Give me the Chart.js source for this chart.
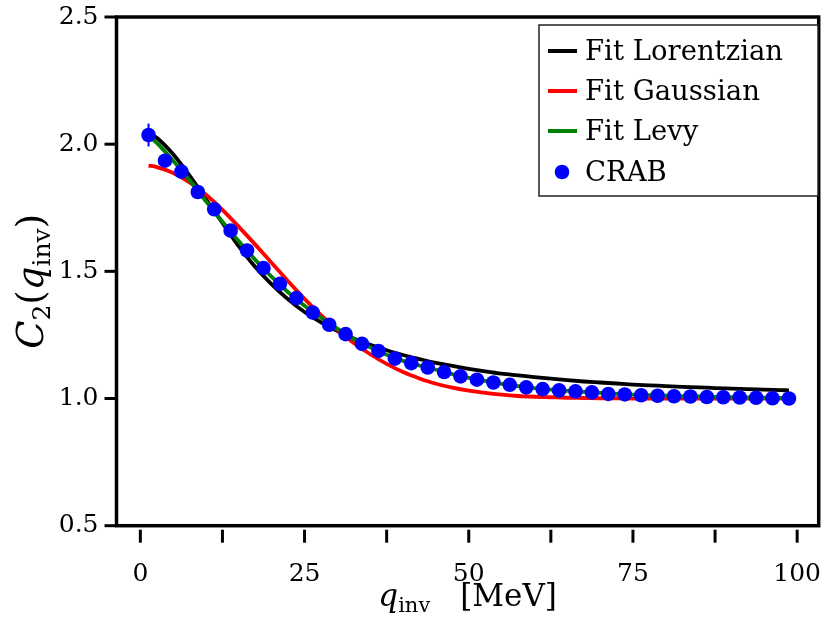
<!DOCTYPE html>
<html>
<head>
<meta charset="utf-8">
<script src="https://cdn.jsdelivr.net/npm/chart.js@4.4.1/dist/chart.umd.min.js"></script>
<style>
  html, body { margin: 0; padding: 0; background: #fff; }
  #wrap { width: 826px; height: 617px; }
</style>
</head>
<body>
<div id="wrap"><canvas id="c2Chart" width="826" height="617"></canvas></div>
<script>
// CRAB correlation points, q_inv in MeV
const crabQ = [1.25, 3.75, 6.25, 8.75, 11.25, 13.75, 16.25, 18.75, 21.25, 23.75,
    26.25, 28.75, 31.25, 33.75, 36.25, 38.75, 41.25, 43.75, 46.25, 48.75,
    51.25, 53.75, 56.25, 58.75, 61.25, 63.75, 66.25, 68.75, 71.25, 73.75,
    76.25, 78.75, 81.25, 83.75, 86.25, 88.75, 91.25, 93.75, 96.25, 98.75];
const crabC2 = [2.036, 1.935, 1.892, 1.812, 1.744, 1.660, 1.582, 1.513, 1.451, 1.395,
    1.338, 1.290, 1.253, 1.215, 1.187, 1.157, 1.139, 1.122, 1.104, 1.087,
    1.074, 1.063, 1.054, 1.044, 1.037, 1.032, 1.028, 1.024, 1.018, 1.016,
    1.013, 1.011, 1.009, 1.008, 1.006, 1.005, 1.004, 1.003, 1.001, 1.000];
const crabErr = [0.045, 0.02, 0.015, 0.012, 0.01, 0.01, 0.01, 0.008, 0.008, 0.008,
    0.006, 0.006, 0.006, 0.006, 0.005, 0.005, 0.005, 0.005, 0.005, 0.005,
    0.004, 0.004, 0.004, 0.004, 0.004, 0.004, 0.004, 0.004, 0.004, 0.004,
    0.004, 0.004, 0.004, 0.004, 0.004, 0.004, 0.004, 0.004, 0.004, 0.004];

// fit curves, sampled on one q grid
const fitQ = [1.25, 2.5, 5, 7.5, 10, 12.5, 15, 17.5, 20, 22.5,
    25, 27.5, 30, 32.5, 35, 37.5, 40, 42.5, 45, 47.5,
    50, 52.5, 55, 57.5, 60, 62.5, 65, 67.5, 70, 72.5,
    75, 77.5, 80, 82.5, 85, 87.5, 90, 92.5, 95, 97.5, 98.75];
const lorentzianC2 = [2.045, 2.025, 1.960, 1.876, 1.783, 1.690, 1.598, 1.517, 1.449, 1.390,
    1.340, 1.299, 1.265, 1.236, 1.211, 1.190, 1.171, 1.155, 1.140, 1.128,
    1.117, 1.107, 1.098, 1.091, 1.084, 1.078, 1.072, 1.067, 1.063, 1.059,
    1.055, 1.052, 1.049, 1.046, 1.044, 1.041, 1.039, 1.037, 1.035, 1.033, 1.032];
const gaussianC2 = [1.916, 1.910, 1.887, 1.850, 1.801, 1.742, 1.675, 1.605, 1.533, 1.461,
    1.392, 1.328, 1.270, 1.218, 1.174, 1.136, 1.104, 1.079, 1.058, 1.043,
    1.031, 1.022, 1.015, 1.010, 1.007, 1.005, 1.003, 1.002, 1.001, 1.001,
    1.000, 1.000, 1.000, 1.000, 1.000, 1.000, 1.000, 1.000, 1.000, 1.000, 1.000];
const levyC2 = [2.035, 2.005, 1.935, 1.858, 1.775, 1.695, 1.618, 1.545, 1.478, 1.418,
    1.365, 1.318, 1.275, 1.234, 1.201, 1.172, 1.148, 1.130, 1.113, 1.096,
    1.081, 1.069, 1.058, 1.049, 1.041, 1.035, 1.030, 1.026, 1.022, 1.018,
    1.015, 1.013, 1.011, 1.009, 1.008, 1.006, 1.005, 1.004, 1.003, 1.002, 1.002];

const xLabelTicks = [0, 25, 50, 75, 100];
const yTicks = [0.5, 1.0, 1.5, 2.0, 2.5];

const SERIF = '"DejaVu Serif", "Liberation Serif", serif';

function toPoints(xs, ys) {
    return xs.map((x, i) => ({ x: x, y: ys[i] }));
}

// error bars for the CRAB points
const errorBars = {
    id: 'errorBars',
    beforeDatasetsDraw(chart) {
        const idx = chart.data.datasets.findIndex(d => d.label === 'CRAB');
        if (idx < 0) return;
        const { ctx, scales: { x, y } } = chart;
        ctx.save();
        ctx.strokeStyle = '#0000ff';
        ctx.lineWidth = 2;
        crabQ.forEach((q, i) => {
            const px = x.getPixelForValue(q);
            ctx.beginPath();
            ctx.moveTo(px, y.getPixelForValue(crabC2[i] - crabErr[i]));
            ctx.lineTo(px, y.getPixelForValue(crabC2[i] + crabErr[i]));
            ctx.stroke();
        });
        ctx.restore();
    }
};

// box frame and outward tick marks
const frameAndTicks = {
    id: 'frameAndTicks',
    afterDatasetsDraw(chart) {
        const { ctx, chartArea: a, scales: { x, y } } = chart;
        ctx.save();
        ctx.strokeStyle = '#000';
        ctx.lineWidth = 3.5;
        ctx.strokeRect(a.left, a.top, a.right - a.left, a.bottom - a.top);
        ctx.lineWidth = 3;
        y.ticks.forEach(t => {
            const py = y.getPixelForValue(t.value);
            ctx.beginPath();
            ctx.moveTo(a.left - 12, py);
            ctx.lineTo(a.left, py);
            ctx.stroke();
        });
        x.ticks.forEach(t => {
            const px = x.getPixelForValue(t.value);
            ctx.beginPath();
            ctx.moveTo(px, a.bottom + 4);
            ctx.lineTo(px, a.bottom + 17);
            ctx.stroke();
        });
        ctx.restore();
    }
};

function drawRich(ctx, parts, cx, baseY) {
    let total = 0;
    parts.forEach(p => {
        if (p.gap) { total += p.gap; return; }
        ctx.font = p.font;
        p.w = ctx.measureText(p.text).width;
        total += p.w;
    });
    let px = cx - total / 2;
    ctx.textBaseline = 'alphabetic';
    ctx.textAlign = 'left';
    parts.forEach(p => {
        if (p.gap) { px += p.gap; return; }
        ctx.font = p.font;
        ctx.fillText(p.text, px, baseY + (p.dy || 0));
        px += p.w;
    });
}

// axis titles with subscripts
const axisTitles = {
    id: 'axisTitles',
    afterDraw(chart) {
        const { ctx, chartArea: a } = chart;
        ctx.save();
        ctx.fillStyle = '#000';
        drawRich(ctx, [
            { text: 'q', font: 'italic 31px ' + SERIF },
            { text: 'inv', font: '21px ' + SERIF, dy: 6 },
            { gap: 30 },
            { text: '[MeV]', font: '31px ' + SERIF }
        ], (a.left + a.right) / 2, 606);

        ctx.translate(43, (a.top + a.bottom) / 2 + 10);
        ctx.rotate(-Math.PI / 2);
        drawRich(ctx, [
            { text: 'C', font: 'italic 37px ' + SERIF },
            { text: '2', font: '25px ' + SERIF, dy: 7 },
            { text: '(', font: '37px ' + SERIF },
            { text: 'q', font: 'italic 37px ' + SERIF },
            { text: 'inv', font: '25px ' + SERIF, dy: 7 },
            { text: ')', font: '37px ' + SERIF }
        ], 0, 0);
        ctx.restore();
    }
};

// legend box in the upper right corner
const legendBox = {
    id: 'legendBox',
    afterDraw(chart) {
        const { ctx } = chart;
        const rowY = [51, 91, 131, 172];
        ctx.save();
        ctx.fillStyle = '#fff';
        ctx.fillRect(539, 25, 279, 171);
        ctx.strokeStyle = '#222';
        ctx.lineWidth = 1.5;
        ctx.strokeRect(539, 25, 279, 171);
        ctx.font = '27.5px ' + SERIF;
        ctx.textBaseline = 'middle';
        ctx.textAlign = 'left';
        chart.data.datasets.forEach((ds, i) => {
            const yy = rowY[i];
            if (ds.showLine === false) {
                ctx.fillStyle = ds.pointBackgroundColor;
                ctx.beginPath();
                ctx.arc(562, yy, 7.3, 0, Math.PI * 2);
                ctx.fill();
            } else {
                ctx.strokeStyle = ds.borderColor;
                ctx.lineWidth = 4;
                ctx.beginPath();
                ctx.moveTo(548, yy);
                ctx.lineTo(577, yy);
                ctx.stroke();
            }
            ctx.fillStyle = '#000';
            ctx.fillText(ds.label, 585, yy + 2);
        });
        ctx.restore();
    }
};

const fitLine = (label, color, ys, order) => ({
    label: label,
    data: toPoints(fitQ, ys),
    borderColor: color,
    backgroundColor: color,
    borderWidth: 3.8,
    pointRadius: 0,
    cubicInterpolationMode: 'monotone',
    fill: false,
    order: order,
});

// drop the label overhang padding so the plot box keeps its size
const noOverhang = (scale) => {
    scale.paddingLeft = 0;
    scale.paddingRight = 0;
    scale.paddingTop = 0;
    scale.paddingBottom = 0;
};

new Chart(document.getElementById('c2Chart'), {
    type: 'line',
    data: {
        datasets: [
            fitLine('Fit Lorentzian', '#000000', lorentzianC2, 4),
            fitLine('Fit Gaussian', '#ff0000', gaussianC2, 3),
            fitLine('Fit Levy', '#008000', levyC2, 2),
            {
                label: 'CRAB',
                data: toPoints(crabQ, crabC2),
                showLine: false,
                pointRadius: 7.3,
                pointBackgroundColor: '#0000ff',
                pointBorderWidth: 0,
                borderColor: '#0000ff',
                order: 1,
            },
        ],
    },
    options: {
        responsive: false,
        animation: false,
        devicePixelRatio: 1,
        layout: {
            padding: { top: 17, right: 2, left: 0, bottom: 0 },
        },
        scales: {
            x: {
                type: 'linear',
                min: -3.63,
                max: 103.28,
                grid: { display: false, drawTicks: false },
                border: { display: false },
                afterFit: (scale) => { scale.height = 91.3; noOverhang(scale); },
                ticks: {
                    stepSize: 12.5,
                    includeBounds: false,
                    autoSkip: false,
                    maxRotation: 0,
                    padding: 34,
                    color: '#000',
                    font: { family: SERIF, size: 25 },
                    callback: (v) => xLabelTicks.includes(v) ? String(v) : '',
                },
            },
            y: {
                type: 'linear',
                min: yTicks[0],
                max: yTicks[yTicks.length - 1],
                grid: { display: false, drawTicks: false },
                border: { display: false },
                afterFit: (scale) => { scale.width = 116.5; noOverhang(scale); },
                ticks: {
                    stepSize: 0.5,
                    padding: 18,
                    color: '#000',
                    font: { family: SERIF, size: 25 },
                    callback: (v) => v.toFixed(1),
                },
            },
        },
        plugins: {
            legend: { display: false },
            tooltip: { enabled: false },
        },
    },
    plugins: [errorBars, frameAndTicks, axisTitles, legendBox],
});
</script>
</body>
</html>
